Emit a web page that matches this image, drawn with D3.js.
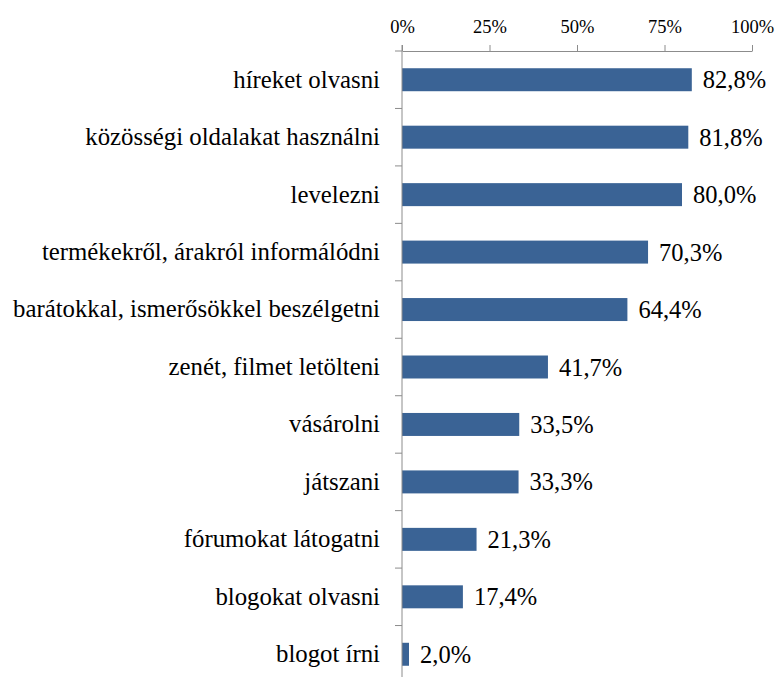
<!DOCTYPE html>
<body style="margin:0">
  <script src="https://cdn.jsdelivr.net/npm/d3@7"></script>
  <script>
    const width = 777;
    const height = 677;
    const font = "Liberation Serif";
    const barColor = "#3a6395";
    const axisColor = "#8c8c8c";

    // data
    const categories = [
      "híreket olvasni",
      "közösségi oldalakat használni",
      "levelezni",
      "termékekről, árakról informálódni",
      "barátokkal, ismerősökkel beszélgetni",
      "zenét, filmet letölteni",
      "vásárolni",
      "játszani",
      "fórumokat látogatni",
      "blogokat olvasni",
      "blogot írni"
    ];
    const values = [82.8, 81.8, 80.0, 70.3, 64.4, 41.7, 33.5, 33.3, 21.3, 17.4, 2.0];
    const tickValues = [0, 25, 50, 75, 100];

    const data = categories.map((c, i) => ({ cat: c, val: values[i] }));

    const margin = { top: 51, left: 402, right: 25 };
    const plotBottom = 683;

    const svg = d3.select("body")
      .append("svg")
      .attr("width", width)
      .attr("height", height)
      .attr("font-family", font);

    const x = d3.scaleLinear().domain([0, 100]).range([margin.left, width - margin.right]);

    // bars take 40% of each row
    const y = d3.scaleBand()
      .domain(categories)
      .range([margin.top, plotBottom])
      .paddingInner(0.6)
      .paddingOuter(0.3);

    const rows = d3.scaleBand().domain(categories).range([margin.top, plotBottom]);

    svg.append("g")
      .selectAll("rect")
      .data(data)
      .enter()
      .append("rect")
      .attr("fill", barColor)
      .attr("x", x(0))
      .attr("y", d => y(d.cat))
      .attr("width", d => x(d.val) - x(0))
      .attr("height", y.bandwidth());

    // value labels
    svg.append("g")
      .selectAll("text")
      .data(data)
      .enter()
      .append("text")
      .attr("x", d => x(d.val) + 11)
      .attr("y", d => y(d.cat) + y.bandwidth() / 2)
      .attr("dy", "0.35em")
      .attr("font-family", font)
      .attr("font-size", 24.5)
      .text(d => d.val.toFixed(1).replace(".", ",") + "%");

    // top axis
    const xAxis = d3.axisTop(x)
      .tickValues(tickValues)
      .tickFormat(d => d + "%")
      .tickSizeInner(6)
      .tickSizeOuter(0)
      .tickPadding(12);

    svg.append("g")
      .attr("transform", `translate(0, ${margin.top})`)
      .call(xAxis)
      .attr("font-family", font)
      .attr("font-size", 18.5)
      .call(g => g.selectAll("path, line").attr("stroke", axisColor))
      .call(g => g.selectAll("text").attr("fill", "#000"));

    // category labels
    const yAxis = d3.axisLeft(rows).tickSize(0).tickPadding(22);
    svg.append("g")
      .attr("transform", `translate(${margin.left}, 0)`)
      .call(yAxis)
      .attr("font-family", font)
      .attr("font-size", 24.8)
      .call(g => g.select(".domain").remove())
      .call(g => g.selectAll("text").attr("fill", "#000"));

    // left axis line with ticks between rows
    const boundaries = categories.map(c => rows(c)).concat([plotBottom]);
    const left = svg.append("g").attr("stroke", axisColor);
    left.append("line")
      .attr("x1", x(0)).attr("x2", x(0))
      .attr("y1", margin.top - 6).attr("y2", plotBottom);
    left.selectAll("line.tk")
      .data(boundaries)
      .enter()
      .append("line")
      .attr("class", "tk")
      .attr("x1", x(0) - 7).attr("x2", x(0))
      .attr("y1", d => d).attr("y2", d => d);
  </script>
</body>
